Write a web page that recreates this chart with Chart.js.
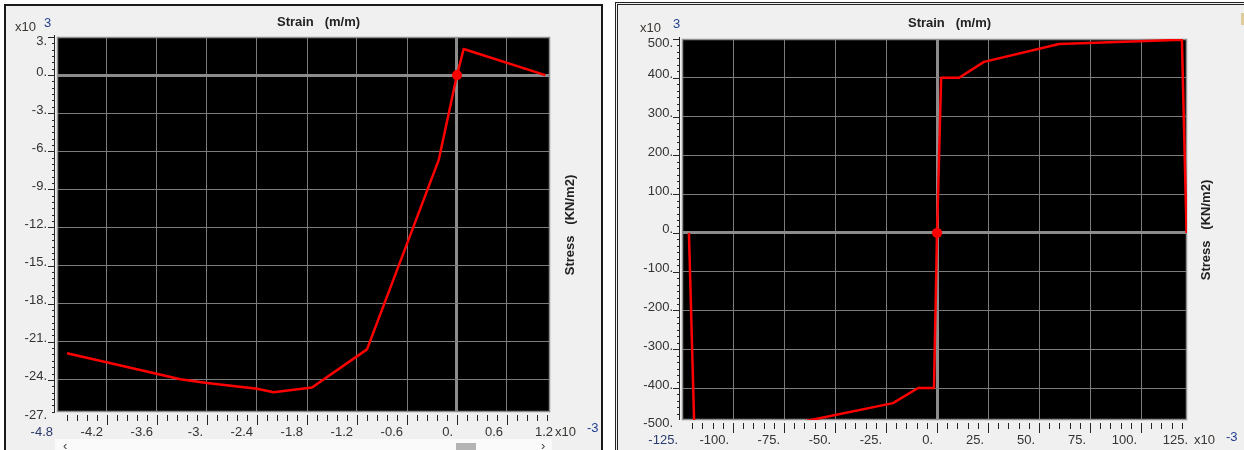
<!DOCTYPE html>
<html>
<head>
<meta charset="utf-8">
<script src="https://cdn.jsdelivr.net/npm/chart.js@4.4.1/dist/chart.umd.min.js"></script>
<style>
  body { margin: 0; background: #fff; width: 1244px; height: 450px; overflow: hidden; position: relative; font-family: Arial, "Liberation Sans", sans-serif; }
  .panel { position: absolute; background: #f0f0f0; overflow: hidden; }
  #leftPanel { left: 4px; top: 4px; width: 595px; height: 460px; border: 2px solid #1a1a1a; }
  #rightPanel { left: 615px; top: 2px; width: 640px; height: 460px; border: 3px double #222; }
  .panel canvas { position: absolute; left: 0; top: 0; }
  .track { position: absolute; left: 55px; top: 439px; width: 497px; height: 12px; background: #fafafa; }
  .thumb { position: absolute; left: 456px; top: 443px; width: 20px; height: 8px; background: #b4b4b4; }
  .chev { position: absolute; top: 438px; font-size: 13px; color: #444; }
  .corner { position: absolute; left: 1241px; top: 13px; width: 3px; height: 12px; background: #ddcc9c; }
</style>
</head>
<body>
<div class="panel" id="leftPanel"><canvas id="concreteChart" width="595" height="444"></canvas></div>
<div class="panel" id="rightPanel"><canvas id="steelChart" width="626" height="445"></canvas></div>
<div class="track"></div>
<div class="thumb"></div>
<div class="chev" style="left:63px">&#8249;</div>
<div class="chev" style="left:541px">&#8250;</div>
<div class="corner"></div>
<script>
// ---- concrete: strain x10^-3, stress x10^3 KN/m2 ----
const CONCRETE_STRAIN = [-4.68, -4.18, -3.58, -3.32, -3.0, -2.4, -2.2, -1.74, -1.08, -0.22, 0, 0.08, 1.06];
const CONCRETE_STRESS = [-21.9, -22.65, -23.55, -23.95, -24.25, -24.7, -24.98, -24.6, -21.6, -6.7, 0, 2.05, 0];
const CONCRETE_X_TICKS = [-4.8, -4.2, -3.6, -3, -2.4, -1.8, -1.2, -0.6, 0, 0.6, 1.2];
const CONCRETE_X_LABELS = ['-4.8', '-4.2', '-3.6', '-3.', '-2.4', '-1.8', '-1.2', '-0.6', '0.', '0.6', '1.2'];
const CONCRETE_Y_TICKS = [-27, -24, -21, -18, -15, -12, -9, -6, -3, 0, 3];
const CONCRETE_Y_LABELS = ['-27.', '-24.', '-21.', '-18.', '-15.', '-12.', '-9.', '-6.', '-3.', '0.', '3.'];

// ---- steel: strain x10^-3, stress x10^3 KN/m2 ----
const STEEL_STRAIN = [-121.6, -119, -66, -21.6, -9.3, -1.5, 0, 2, 10.8, 23, 59.8, 120, 122.3];
const STEEL_STRESS = [0, -497, -487, -439, -400, -400, 0, 400, 400, 441, 487, 498, 0];
const STEEL_X_TICKS = [-125, -100, -75, -50, -25, 0, 25, 50, 75, 100, 125];
const STEEL_X_LABELS = ['-125.', '-100.', '-75.', '-50.', '-25.', '0.', '25.', '50.', '75.', '100.', '125.'];
const STEEL_Y_TICKS = [-500, -400, -300, -200, -100, 0, 100, 200, 300, 400, 500];
const STEEL_Y_LABELS = ['-500.', '-400.', '-300.', '-200.', '-100.', '0.', '100.', '200.', '300.', '400.', '500.'];

// current point marker
const MARK_STRAIN = [0];
const MARK_STRESS = [0];

const RED = '#ff0000';
const FONT = 'Arial, "Liberation Sans", sans-serif';

function drawTickMarks(ctx, scale, majors, div, horizontal, a) {
  const lo = Math.min(scale.min, scale.max), hi = Math.max(scale.min, scale.max);
  const vals = [];
  for (let i = 0; i < majors.length - 1; i++) {
    const step = (majors[i + 1] - majors[i]) / div;
    for (let k = 0; k < div; k++) vals.push({ v: majors[i] + k * step, major: k === 0 });
  }
  vals.push({ v: majors[majors.length - 1], major: true });
  vals.forEach(t => {
    if (t.v < lo - 1e-9 || t.v > hi + 1e-9) return;
    if (horizontal && Math.abs(t.v - scale.min) < 1e-9) return;
    const p = Math.round(scale.getPixelForValue(t.v)) + 0.5;
    ctx.beginPath();
    if (horizontal) { ctx.moveTo(p, a.bottom + 3); ctx.lineTo(p, a.bottom + (t.major ? 13 : 9)); }
    else { ctx.moveTo(a.left - (t.major ? 9 : 5), p); ctx.lineTo(a.left - 2, p); }
    ctx.stroke();
  });
}

function drawMult(ctx, m) {
  ctx.textAlign = 'left';
  ctx.textBaseline = 'middle';
  ctx.font = '13px ' + FONT;
  ctx.fillStyle = '#3a3530';
  ctx.fillText('x10', m[0], m[1]);
  ctx.fillStyle = '#1f3f8f';
  ctx.fillText(m[4], m[2], m[3]);
}

const panelPlugin = {
  id: 'panelText',
  beforeDraw(chart) {
    const { ctx, chartArea: a } = chart;
    ctx.save();
    ctx.fillStyle = '#000';
    ctx.fillRect(a.left, a.top, a.right - a.left, a.bottom - a.top);
    ctx.restore();
  },
  beforeDatasetsDraw(chart) {
    const { ctx, chartArea: a } = chart;
    ctx.save();
    ctx.strokeStyle = '#8f8f8f';
    ctx.lineWidth = 1.5;
    ctx.strokeRect(a.left + 0.5, a.top + 0.5, a.right - a.left - 1, a.bottom - a.top - 1);
    ctx.restore();
  },
  afterDraw(chart, args, o) {
    const { ctx, chartArea: a, scales } = chart;
    ctx.save();
    ctx.strokeStyle = '#262626';
    ctx.lineWidth = 1;
    drawTickMarks(ctx, scales.x, o.xTicks, 5, true, a);
    drawTickMarks(ctx, scales.y, o.yTicks, 6, false, a);
    // y spine
    ctx.beginPath();
    ctx.moveTo(a.left - 2.5, a.top - 2);
    ctx.lineTo(a.left - 2.5, a.bottom);
    ctx.stroke();

    ctx.fillStyle = '#222';
    ctx.font = 'bold 13px ' + FONT;
    ctx.textAlign = 'center';
    ctx.textBaseline = 'middle';
    ctx.fillText('Strain   (m/m)', o.title[0], o.title[1]);
    ctx.save();
    ctx.translate(o.side[0], o.side[1]);
    ctx.rotate(-Math.PI / 2);
    ctx.fillText('Stress   (KN/m2)', 0, 0);
    ctx.restore();

    drawMult(ctx, o.yMult);
    drawMult(ctx, o.xMult);
    ctx.restore();
  }
};

function axisOpts(s, ticks, labels, size, pad, offset) {
  return {
    type: 'linear',
    bounds: 'data',
    min: s[0], max: s[1],
    border: { display: false },
    grid: {
      drawTicks: false,
      color: c => (c.tick.value < c.scale.min - 1e-9 || c.tick.value > c.scale.max + 1e-9) ? 'rgba(0,0,0,0)' : (c.tick.value === 0 ? '#8c8c8c' : '#7c7c7c'),
      lineWidth: c => c.tick.value === 0 ? 3 : 1
    },
    afterBuildTicks: sc => { sc.ticks = ticks.map(v => ({ value: v })); },
    afterFit: sc => { if (sc.isHorizontal()) sc.height = size; else sc.width = size; },
    ticks: {
      autoSkip: false, maxRotation: 0, minRotation: 0,
      font: { size: 13, family: FONT },
      color: c => c.index === 0 && offset.first ? '#2a3a6a' : '#333',
      padding: pad,
      align: offset.align || 'center',
      labelOffset: offset.dx,
      // the top y label sits just below its gridline, as in the original control
      callback: (v, i) => (offset.dropTop && i === labels.length - 1) ? ['', labels[i]] : labels[i]
    }
  };
}

function makeChart(id, s) {
  return new Chart(document.getElementById(id), {
    type: 'line',
    data: {
      datasets: [
        {
          data: s.strain.map((x, i) => ({ x, y: s.stress[i] })),
          borderColor: RED, borderWidth: 2.5, borderJoinStyle: 'round',
          pointRadius: 0, tension: 0, clip: 0, fill: false
        },
        {
          data: MARK_STRAIN.map((x, i) => ({ x, y: MARK_STRESS[i] })),
          showLine: false, pointRadius: 5, pointBackgroundColor: RED, pointBorderWidth: 0, pointBorderColor: RED
        }
      ]
    },
    options: {
      responsive: false, animation: false, events: [],
      layout: { padding: s.pad },
      plugins: { legend: { display: false }, tooltip: { enabled: false }, panelText: s.text },
      scales: {
        x: axisOpts(s.xRange, s.xTicks, s.xLabels, s.xSize, 13, { align: 'end', dx: -4, first: true }),
        y: axisOpts(s.yRange, s.yTicks, s.yLabels, s.ySize, s.yPad, { dx: -3, dropTop: true })
      }
    },
    plugins: [panelPlugin]
  });
}

makeChart('concreteChart', {
  strain: CONCRETE_STRAIN, stress: CONCRETE_STRESS,
  xTicks: CONCRETE_X_TICKS, xLabels: CONCRETE_X_LABELS,
  yTicks: CONCRETE_Y_TICKS, yLabels: CONCRETE_Y_LABELS,
  xRange: [-4.8, 1.116], yRange: [-26.53, 3],
  pad: { left: 0, top: 31, right: 51, bottom: 0 },
  xSize: 38, ySize: 51, yPad: 10,
  text: {
    xTicks: CONCRETE_X_TICKS, yTicks: CONCRETE_Y_TICKS,
    title: [312.5, 16], side: [564, 219],
    yMult: [9, 21, 38, 17, '3'], xMult: [549, 426, 581, 422, '-3']
  }
});

makeChart('steelChart', {
  strain: STEEL_STRAIN, stress: STEEL_STRESS,
  xTicks: STEEL_X_TICKS, xLabels: STEEL_X_LABELS,
  yTicks: STEEL_Y_TICKS, yLabels: STEEL_Y_LABELS,
  xRange: [-125, 122.5], yRange: [-482.5, 500],
  pad: { left: 0, top: 34, right: 57, bottom: 0 },
  xSize: 30, ySize: 64, yPad: 9,
  text: {
    xTicks: STEEL_X_TICKS, yTicks: STEEL_Y_TICKS,
    title: [331.5, 18], side: [588, 225],
    yMult: [22, 23, 55, 19, '3'], xMult: [576, 435, 608, 432, '-3']
  }
});
</script>
</body>
</html>
